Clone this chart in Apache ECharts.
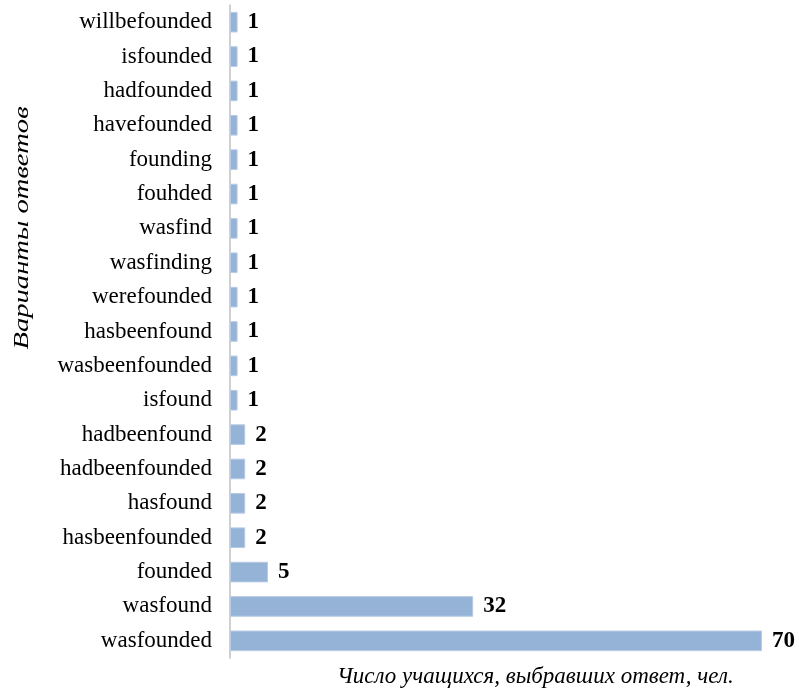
<!DOCTYPE html>
<html><head><meta charset="utf-8">
<script src="https://cdn.jsdelivr.net/npm/echarts@6/dist/echarts.min.js"></script>
<style>html,body{margin:0;padding:0;background:#fff}#c{width:799px;height:695px}</style>
</head><body><div id="c"></div>
<script>
const categories = ["wasfounded","wasfound","founded","hasbeenfounded","hasfound","hadbeenfounded","hadbeenfound","isfound","wasbeenfounded","hasbeenfound","werefounded","wasfinding","wasfind","fouhded","founding","havefounded","hadfounded","isfounded","willbefounded"];
const values = [70,32,5,2,2,2,2,1,1,1,1,1,1,1,1,1,1,1,1];
const xTitle = "Число учащихся, выбравших ответ, чел.";
const yTitle = "Варианты ответов";
const chart = echarts.init(document.getElementById('c'));
chart.setOption({
  animation:false,
  grid:{left:230,right:37,top:5,bottom:37},
  xAxis:{type:'value',min:0,max:70,show:false},
  yAxis:{type:'category',data:categories,
    axisLine:{show:true,lineStyle:{color:'#c0c0c0',width:1.5}},
    axisTick:{show:false},
    axisLabel:{fontFamily:'Liberation Serif',fontSize:23,color:'#000',margin:18}},
  series:[{type:'bar',data:values,barCategoryGap:'40%',
    itemStyle:{color:'#95b3d7',borderColor:'#b8cce4',borderWidth:1},
    label:{show:true,position:'right',distance:10,fontFamily:'Liberation Serif',fontSize:23,fontWeight:'bold',color:'#000'}}],
  graphic:[
    {type:'text',left:337,top:665,style:{text:xTitle,font:'italic 23px "Liberation Serif"',fill:'#000'}},
    {type:'text',x:22,y:228,rotation:Math.PI/2,scaleX:1.3,style:{text:yTitle,font:'italic 22px "Liberation Serif"',fill:'#000',textAlign:'center',textVerticalAlign:'middle'}}
  ]
});
</script></body></html>
